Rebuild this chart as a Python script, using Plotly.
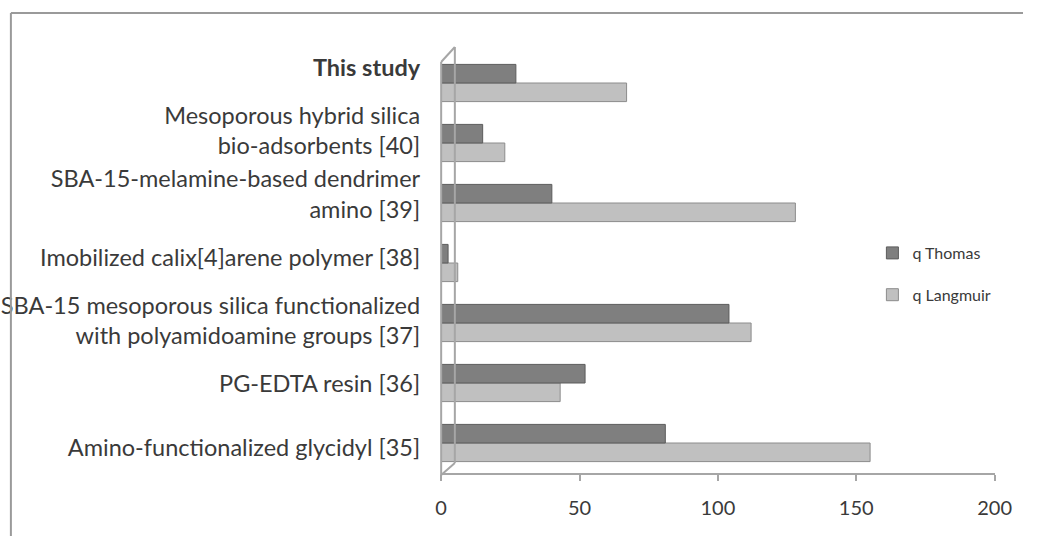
import plotly.graph_objects as go

# Adsorbents, listed bottom to top as they appear on the category axis
categories = [
    "Amino-functionalized glycidyl [35]",
    "PG-EDTA resin [36]",
    "SBA-15 mesoporous silica functionalized with polyamidoamine groups [37]",
    "Imobilized calix[4]arene polymer [38]",
    "SBA-15-melamine-based dendrimer amino [39]",
    "Mesoporous hybrid silica bio-adsorbents [40]",
    "This study",
]
tick_labels = [
    "Amino-functionalized glycidyl [35]",
    "PG-EDTA resin [36]",
    "SBA-15 mesoporous silica functionalized<br>with polyamidoamine groups [37]",
    "Imobilized calix[4]arene polymer [38]",
    "SBA-15-melamine-based dendrimer<br>amino [39]",
    "Mesoporous hybrid silica<br>bio-adsorbents [40]",
    "<b>This study</b>",
]
q_thomas = [81, 52, 104, 2.5, 40, 15, 27]
q_langmuir = [155, 43, 112, 6, 128, 23, 67]
x_ticks = [0, 50, 100, 150, 200]

W, H = 1040, 536
FONT = "Lato, 'Open Sans', sans-serif"
AXIS_GREY = "#a6a6a6"
TEXT = "#3a3a3a"

# horizontal layout anchors (px)
AX_LEFT, AX_RIGHT = 445, 1011
WALL_BACK = 459


def px_x(p):
    return p / W


def px_y(p):
    return 1 - p / H


def seg(x0, y0, x1, y1, color=AXIS_GREY, width=2):
    return dict(type="line", xref="paper", yref="paper",
                x0=px_x(x0), x1=px_x(x1), y0=px_y(y0), y1=px_y(y1),
                line=dict(color=color, width=width))


fig = go.Figure()
fig.add_trace(go.Bar(
    y=categories, x=q_langmuir, orientation="h", name="q Langmuir",
    legendgroup="l", legendrank=2,
    marker=dict(color="#c0c0c0", line=dict(color="#8c8c8c", width=1)),
))
fig.add_trace(go.Bar(
    y=categories, x=q_thomas, orientation="h", name="q Thomas",
    legendgroup="t", legendrank=1,
    marker=dict(color="#7f7f7f", line=dict(color="#5c5c5c", width=1)),
))
# Invisible carrier for the category label axis
fig.add_trace(go.Scatter(
    y=categories, x=[0] * len(categories), yaxis="y2", mode="markers",
    marker=dict(opacity=0), showlegend=False, hoverinfo="skip",
))

shapes = [
    # outer frame (top and left edges; the rest runs off the page)
    seg(5, 13, W, 13, "#9a9a9a"),
    seg(5, 13, 5, H, "#9a9a9a"),
    # 3-D wall edges
    seg(AX_LEFT, 475, AX_LEFT, 62),
    seg(AX_LEFT, 62, WALL_BACK, 47),
    seg(WALL_BACK, 47, WALL_BACK, 463),
    seg(AX_LEFT, 475, WALL_BACK, 463),
]

fig.update_layout(
    width=W, height=H,
    margin=dict(l=0, r=0, t=0, b=0),
    paper_bgcolor="white", plot_bgcolor="rgba(0,0,0,0)",
    barmode="group", bargap=0.38, bargroupgap=0,
    font=dict(family=FONT, color=TEXT),
    showlegend=True,
    legend=dict(
        x=px_x(886), y=px_y(236), xanchor="left", yanchor="top",
        traceorder="grouped", tracegroupgap=18,
        font=dict(size=16, color=TEXT),
        bgcolor="rgba(0,0,0,0)", itemwidth=30,
    ),
    xaxis=dict(
        domain=[px_x(AX_LEFT), px_x(AX_RIGHT)], range=[0, 200],
        tickvals=x_ticks, ticks="outside", ticklen=6, tickcolor=AXIS_GREY,
        tickwidth=2, showline=True, linecolor=AXIS_GREY, linewidth=2,
        showgrid=False, zeroline=False, ticklabelstandoff=10,
        tickfont=dict(size=20, color=TEXT),
    ),
    yaxis=dict(
        domain=[px_y(473), px_y(53)], type="category",
        categoryorder="array", categoryarray=categories,
        range=[-0.5, len(categories) - 0.5],
        showticklabels=False, showgrid=False, showline=False, zeroline=False,
    ),
    yaxis2=dict(
        domain=[px_y(479), px_y(36)], type="category", anchor="x",
        categoryorder="array", categoryarray=categories,
        range=[-0.5, len(categories) - 0.5],
        tickvals=categories, ticktext=tick_labels,
        showgrid=False, showline=False, zeroline=False, ticks="",
        ticklabelstandoff=20,
        tickfont=dict(size=23.5, color=TEXT),
    ),
    shapes=shapes,
)

fig.write_html("out.html", config={"staticPlot": True})
